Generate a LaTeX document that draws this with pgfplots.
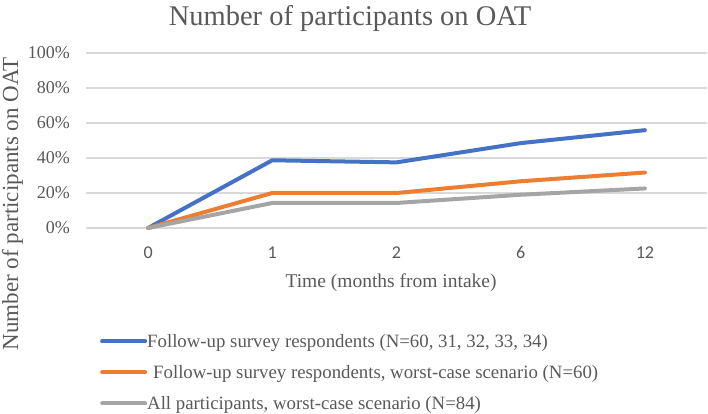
\documentclass[border=0pt]{standalone}
\usepackage{fontspec}
\setmainfont{Liberation Serif}
\newfontfamily\tickfont{Carlito}
\usepackage{pgfplots}
\pgfplotsset{compat=1.18}
\definecolor{cblue}{HTML}{4472C4}
\definecolor{corange}{HTML}{ED7D31}
\definecolor{cgray}{HTML}{A5A5A5}
\definecolor{gridgray}{HTML}{D9D9D9}
\definecolor{textgray}{HTML}{595959}
\begin{document}
\begin{tikzpicture}[x=1pt,y=1pt]
\useasboundingbox (0,0) rectangle (708,414);
\begin{axis}[
  at={(86pt,186pt)}, anchor=south west,
  scale only axis, width=621pt, height=175pt,
  xmin=-0.5, xmax=4.5, ymin=0, ymax=100,
  xtick={0,1,2,3,4}, xticklabels={0,1,2,6,12},
  ytick={0,20,40,60,80,100},
  yticklabels={0\%,20\%,40\%,60\%,80\%,100\%},
  ymajorgrids, major grid style={color=gridgray, line width=1.3pt},
  axis line style={draw=none}, tick style={draw=none}, major tick length=0pt,
  xticklabel style={font=\tickfont\fontsize{18}{20}\selectfont, text=textgray, anchor=base, inner sep=0pt, yshift=-31pt},
  yticklabel style={font=\fontsize{18}{20}\selectfont, text=textgray, anchor=east, inner sep=0pt, xshift=-16pt},
  clip=false,
  legend style={at={(axis description cs:0.0225,-0.605)}, anchor=north west, draw=none, fill=none, inner sep=0pt, row sep=16.5pt, font=\fontsize{18.8}{22}\selectfont, text=textgray, nodes={inner sep=0pt}},
  legend cell align=left,
  legend image code/.code={\draw[#1, line width=4pt, line cap=round] (1pt,0pt) -- (44pt,0pt);},
  every axis plot/.append style={line width=4pt, line cap=round, line join=round},
]
\addplot[cblue] coordinates {(0,0) (1,38.7) (2,37.5) (3,48.5) (4,55.9)};
\addplot[corange] coordinates {(0,0) (1,20) (2,20) (3,26.7) (4,31.7)};
\addplot[cgray] coordinates {(0,0) (1,14.3) (2,14.3) (3,19.0) (4,22.6)};
\legend{{Follow-up survey respondents (N=60, 31, 32, 33, 34)},{\hspace*{6pt}Follow-up survey respondents, worst-case scenario (N=60)},{All participants, worst-case scenario (N=84)}}
\end{axis}
\node[anchor=base, text=textgray, font=\fontsize{28.5}{32}\selectfont] at (350,388) {Number of participants on OAT};
\node[anchor=base, rotate=90, text=textgray, font=\fontsize{23}{26}\selectfont] at (18,210) {Number of participants on OAT};
\node[anchor=base west, text=textgray, font=\fontsize{19.5}{22}\selectfont] at (282,126) {Time (months from intake)};
\end{tikzpicture}
\end{document}
